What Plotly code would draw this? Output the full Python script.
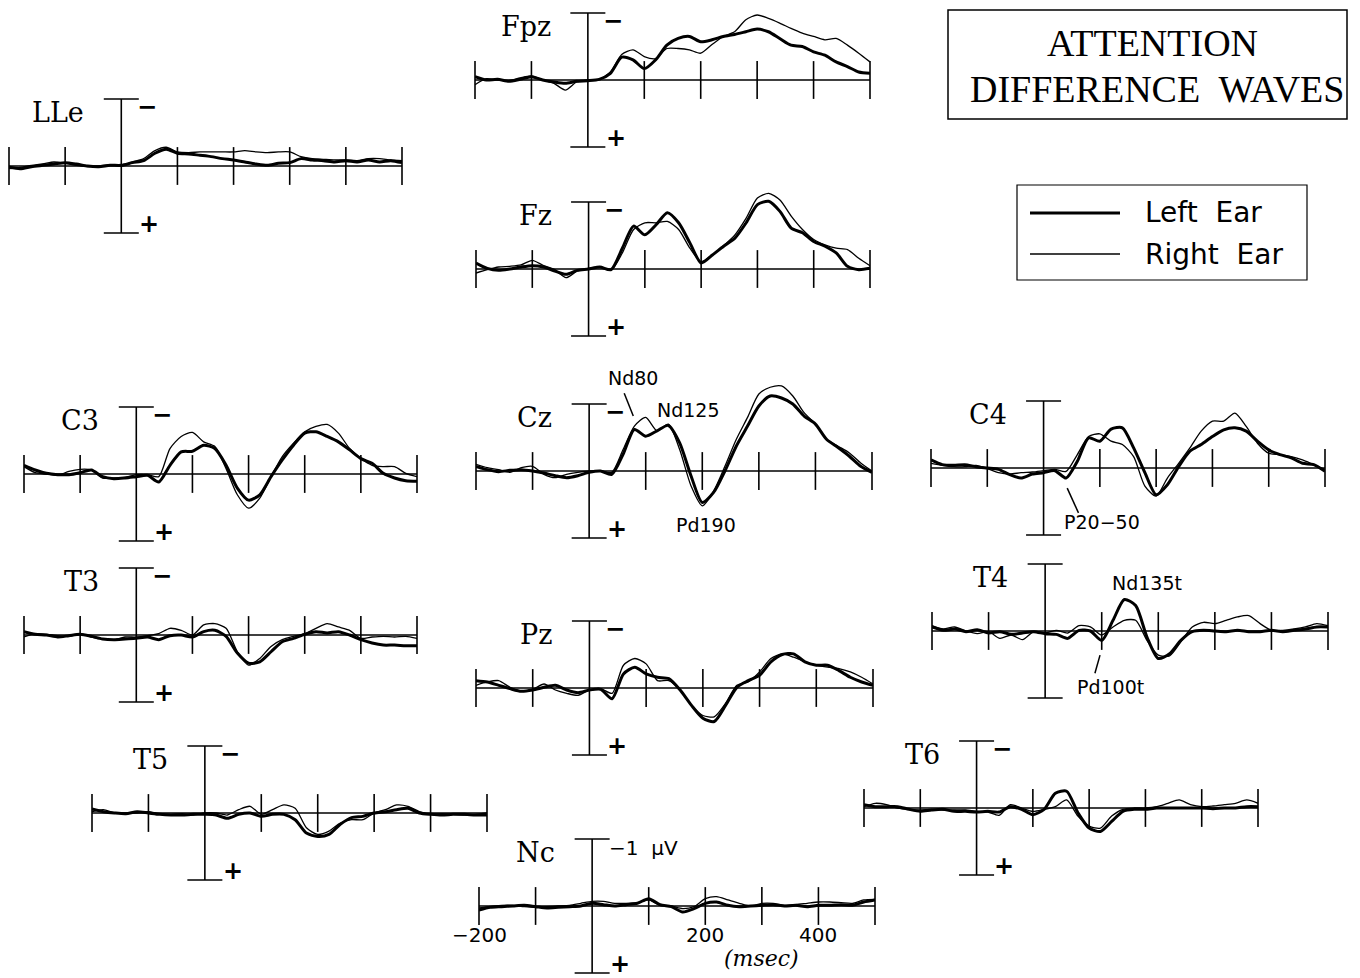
import plotly.graph_objects as go

# ---------------- data (microvolts, negative = up) ----------------
TIMES = list(range(-200, 501, 20))           # ms
TICKS = [-200, -100, 100, 200, 300, 400, 500]
NC_TICK_VALUES = [-200, 200, 400]
NC_TICK_TEXT = ["\u2212200", "200", "400"]

CHANNELS = ["LLe", "Fpz", "Fz", "C3", "Cz", "C4", "T3", "Pz", "T4", "T5", "T6", "Nc"]

LLE_LEFT = [0.02, 0.04, 0.01, -0.01, -0.03, -0.05, -0.03, 0.00, 0.01, -0.01, -0.01,
            -0.05, -0.08, -0.19, -0.25, -0.19, -0.18, -0.16, -0.14, -0.11, -0.09, -0.06, -0.03,
            -0.01, -0.04, -0.05, -0.11, -0.09, -0.08, -0.06, -0.08, -0.06, -0.09, -0.06, -0.08, -0.05]
LLE_RIGHT = [0.04, 0.02, -0.01, -0.03, -0.06, -0.04, -0.01, 0.01, 0.00, -0.02, 0.00,
             -0.06, -0.11, -0.23, -0.28, -0.21, -0.20, -0.21, -0.21, -0.21, -0.21, -0.23, -0.21,
             -0.20, -0.21, -0.21, -0.14, -0.11, -0.10, -0.09, -0.09, -0.08, -0.11, -0.11, -0.09, -0.08]

FPZ_LEFT = [-0.05, 0.00, -0.01, 0.02, -0.01, -0.05, 0.00, 0.03, 0.05, 0.02, 0.01,
            -0.01, -0.10, -0.34, -0.30, -0.17, -0.30, -0.52, -0.62, -0.65, -0.57, -0.60, -0.65,
            -0.68, -0.72, -0.76, -0.72, -0.62, -0.52, -0.50, -0.42, -0.37, -0.27, -0.20, -0.12, -0.10]
FPZ_RIGHT = [0.07, -0.02, 0.00, 0.01, -0.03, -0.06, 0.00, 0.05, 0.15, 0.03, 0.00,
             -0.01, -0.12, -0.38, -0.45, -0.35, -0.32, -0.47, -0.47, -0.45, -0.40, -0.53, -0.65,
             -0.72, -0.90, -0.97, -0.92, -0.85, -0.77, -0.70, -0.65, -0.60, -0.62, -0.52, -0.40, -0.27]

FZ_LEFT = [-0.09, -0.01, 0.02, 0.00, -0.03, -0.05, -0.03, 0.03, 0.08, 0.02, 0.00,
           -0.03, 0.01, -0.31, -0.64, -0.51, -0.66, -0.84, -0.69, -0.39, -0.09, -0.21, -0.34,
           -0.46, -0.69, -0.96, -1.01, -0.86, -0.61, -0.54, -0.41, -0.34, -0.24, -0.04, 0.01, -0.01]
FZ_RIGHT = [0.06, 0.01, -0.03, -0.04, -0.06, -0.13, -0.05, 0.01, 0.13, 0.03, -0.01,
            -0.03, 0.02, -0.24, -0.59, -0.69, -0.69, -0.71, -0.59, -0.31, -0.11, -0.21, -0.35,
            -0.51, -0.76, -1.06, -1.13, -1.03, -0.79, -0.59, -0.44, -0.36, -0.31, -0.29, -0.16, -0.05]

C3_LEFT = [-0.13, -0.06, -0.01, 0.01, 0.01, -0.02, -0.06, 0.04, 0.07, 0.06, 0.04,
           0.02, 0.12, -0.13, -0.33, -0.34, -0.43, -0.38, -0.13, 0.21, 0.39, 0.31, 0.04,
           -0.21, -0.43, -0.61, -0.63, -0.56, -0.48, -0.36, -0.23, -0.16, -0.01, 0.06, 0.10, 0.11]
C3_RIGHT = [-0.11, -0.02, 0.00, 0.02, -0.04, -0.07, -0.06, 0.06, 0.06, 0.05, 0.01,
            0.01, 0.04, -0.38, -0.56, -0.62, -0.48, -0.41, -0.08, 0.31, 0.51, 0.36, 0.04,
            -0.26, -0.46, -0.63, -0.71, -0.74, -0.61, -0.38, -0.23, -0.13, -0.11, -0.11, -0.01, 0.04]

CZ_LEFT = [-0.07, -0.02, 0.01, -0.01, -0.02, 0.00, 0.03, 0.07, 0.10, 0.07, 0.02,
           0.00, 0.05, -0.25, -0.62, -0.52, -0.60, -0.68, -0.42, 0.07, 0.47, 0.32, 0.00,
           -0.37, -0.67, -0.97, -1.12, -1.09, -1.00, -0.82, -0.70, -0.47, -0.35, -0.22, -0.07, 0.02]
CZ_RIGHT = [-0.10, -0.05, -0.02, 0.02, -0.05, -0.07, 0.05, 0.10, 0.05, 0.02, 0.00,
            0.00, 0.02, -0.32, -0.67, -0.80, -0.60, -0.70, -0.32, 0.22, 0.52, 0.30, -0.07,
            -0.47, -0.80, -1.15, -1.25, -1.27, -1.12, -0.87, -0.70, -0.47, -0.37, -0.27, -0.12, 0.00]

C4_LEFT = [-0.12, -0.05, -0.04, -0.05, -0.02, 0.00, 0.02, 0.10, 0.15, 0.09, 0.07,
           0.04, 0.15, -0.10, -0.45, -0.40, -0.58, -0.60, -0.30, 0.07, 0.40, 0.25, -0.02,
           -0.25, -0.35, -0.47, -0.57, -0.60, -0.55, -0.40, -0.27, -0.20, -0.15, -0.07, -0.05, 0.05]
C4_RIGHT = [-0.07, -0.04, -0.02, -0.02, -0.04, 0.01, 0.07, 0.09, 0.07, 0.06, 0.04,
            0.02, 0.05, -0.20, -0.47, -0.51, -0.40, -0.35, -0.17, 0.27, 0.42, 0.15, -0.07,
            -0.30, -0.55, -0.70, -0.70, -0.82, -0.62, -0.37, -0.22, -0.20, -0.17, -0.12, -0.05, 0.02]

T3_LEFT = [-0.05, -0.01, 0.00, 0.03, 0.01, -0.01, 0.02, 0.06, 0.07, 0.06, 0.05,
           0.03, 0.07, 0.01, 0.00, 0.03, -0.05, -0.07, 0.02, 0.27, 0.42, 0.40, 0.25,
           0.10, 0.05, -0.01, -0.05, -0.03, -0.05, 0.00, 0.07, 0.12, 0.15, 0.15, 0.16, 0.16]
T3_RIGHT = [0.03, -0.02, -0.01, 0.01, 0.02, -0.02, 0.03, 0.06, 0.07, 0.03, 0.03,
            0.01, -0.02, -0.10, -0.07, 0.00, -0.15, -0.17, -0.10, 0.25, 0.45, 0.35, 0.17,
            0.07, 0.02, -0.02, -0.10, -0.17, -0.12, -0.07, 0.05, 0.03, 0.02, 0.03, 0.02, 0.05]

PZ_LEFT = [-0.11, -0.09, -0.04, 0.01, 0.05, 0.03, -0.01, -0.04, 0.03, 0.07, 0.03,
           0.02, 0.16, -0.21, -0.31, -0.21, -0.16, -0.14, 0.03, 0.26, 0.45, 0.50, 0.26,
           -0.01, -0.11, -0.19, -0.39, -0.50, -0.51, -0.39, -0.34, -0.34, -0.26, -0.16, -0.09, -0.04]
PZ_RIGHT = [-0.04, -0.09, -0.11, -0.01, 0.05, 0.02, -0.06, 0.03, 0.08, 0.11, 0.03,
            0.01, 0.08, -0.34, -0.44, -0.36, -0.11, -0.11, 0.03, 0.26, 0.41, 0.43, 0.23,
            -0.04, -0.09, -0.24, -0.44, -0.51, -0.46, -0.39, -0.34, -0.31, -0.29, -0.24, -0.16, -0.06]

T4_LEFT = [-0.06, -0.01, -0.03, 0.01, -0.02, 0.03, 0.01, 0.05, 0.03, 0.01, 0.04,
           0.05, 0.11, -0.01, 0.00, 0.14, -0.16, -0.47, -0.38, 0.09, 0.41, 0.34, 0.14,
           0.01, -0.01, 0.00, 0.01, -0.01, 0.01, 0.01, -0.01, 0.01, -0.01, -0.03, -0.06, -0.06]
T4_RIGHT = [-0.08, -0.03, -0.06, 0.00, 0.04, 0.01, 0.11, 0.06, 0.13, 0.01, 0.03,
            -0.01, 0.03, -0.08, -0.06, 0.06, -0.06, -0.16, -0.16, 0.14, 0.36, 0.37, 0.16,
            -0.06, -0.13, -0.11, -0.16, -0.21, -0.23, -0.11, -0.01, -0.01, -0.03, -0.06, -0.11, -0.08]

T5_LEFT = [-0.06, -0.02, 0.00, 0.01, -0.02, 0.00, 0.02, 0.03, 0.03, 0.02, 0.02,
           0.03, 0.08, 0.02, 0.00, 0.05, 0.02, 0.02, 0.10, 0.30, 0.35, 0.32, 0.17,
           0.07, 0.05, 0.00, -0.02, -0.05, -0.07, 0.00, 0.02, 0.03, 0.02, 0.02, 0.03, 0.03]
T5_RIGHT = [-0.02, -0.05, 0.00, 0.00, 0.00, -0.02, 0.01, 0.02, 0.01, 0.03, 0.00,
            0.00, 0.03, -0.05, -0.10, 0.02, -0.05, -0.12, -0.07, 0.22, 0.32, 0.27, 0.15,
            0.10, 0.10, 0.00, -0.05, -0.12, -0.10, -0.02, 0.02, 0.01, 0.02, 0.03, 0.02, 0.00]

T6_LEFT = [-0.05, -0.02, -0.02, -0.02, 0.02, 0.05, 0.03, 0.02, 0.05, 0.05, 0.06,
           0.05, 0.06, -0.02, 0.02, 0.10, 0.02, -0.22, -0.25, 0.07, 0.30, 0.35, 0.20,
           0.05, 0.02, 0.02, 0.00, 0.00, 0.00, 0.00, 0.00, 0.01, 0.00, 0.00, -0.02, -0.02]
T6_RIGHT = [-0.02, -0.07, -0.05, 0.00, 0.02, 0.03, 0.02, 0.03, 0.03, 0.03, 0.05,
            0.06, 0.11, -0.05, 0.00, 0.05, 0.02, -0.02, -0.12, 0.12, 0.27, 0.30, 0.12,
            0.02, 0.00, 0.00, -0.02, -0.07, -0.12, -0.05, -0.02, -0.03, -0.05, -0.07, -0.12, -0.07]

NC_LEFT = [0.06, 0.02, 0.01, 0.00, -0.01, 0.01, 0.03, 0.02, 0.01, 0.00, -0.04,
           -0.02, 0.00, -0.02, -0.04, -0.11, -0.02, 0.01, 0.09, 0.04, -0.04, -0.06, -0.01,
           0.01, 0.00, -0.01, -0.02, 0.00, -0.01, 0.01, -0.01, -0.01, -0.02, -0.01, -0.06, -0.09]
NC_RIGHT = [0.03, 0.01, -0.01, -0.01, 0.01, 0.02, 0.01, 0.00, -0.01, -0.04, -0.07,
            -0.07, -0.04, -0.04, -0.05, -0.09, -0.01, 0.00, 0.04, 0.01, -0.11, -0.14, -0.09,
            -0.04, 0.00, -0.04, -0.04, -0.01, -0.02, -0.04, -0.06, -0.06, -0.05, -0.04, -0.09, -0.10]

LEFT_EAR = {"LLe": LLE_LEFT, "Fpz": FPZ_LEFT, "Fz": FZ_LEFT, "C3": C3_LEFT, "Cz": CZ_LEFT,
            "C4": C4_LEFT, "T3": T3_LEFT, "Pz": PZ_LEFT, "T4": T4_LEFT, "T5": T5_LEFT,
            "T6": T6_LEFT, "Nc": NC_LEFT}
RIGHT_EAR = {"LLe": LLE_RIGHT, "Fpz": FPZ_RIGHT, "Fz": FZ_RIGHT, "C3": C3_RIGHT, "Cz": CZ_RIGHT,
             "C4": C4_RIGHT, "T3": T3_RIGHT, "Pz": PZ_RIGHT, "T4": T4_RIGHT, "T5": T5_RIGHT,
             "T6": T6_RIGHT, "Nc": NC_RIGHT}

# peak labels: (channel, text, time ms, value uV)
PEAK_LABELS = [("Cz", "Nd80", 78, -1.39), ("Cz", "Nd125", 175, -0.91), ("Cz", "Nd290", 335, -1.51),
               ("Cz", "Pd190", 207, 0.81), ("C4", "P20\u221250", 104, 0.81),
               ("T4", "Nd135t", 180, -0.72), ("T4", "Pd100t", 115, 0.84)]
# pointer lines: (channel, t0, v0, t1, v1)
POINTERS = [("Cz", 62, -1.16, 78, -0.82), ("C4", 42, 0.30, 62, 0.67), ("T4", 97, 0.36, 88, 0.63)]

# ---------------- layout / geometry (pixels) ----------------
W, H = 1360, 978
UV_PX = 67
GEOM = {  # x of -200 ms, x of 500 ms, y of baseline
    "LLe": (9, 402, 166), "Fpz": (475, 870, 80), "Fz": (476, 870, 269),
    "C3": (24, 417, 474), "Cz": (476, 872, 471), "C4": (931, 1325, 468),
    "T3": (24, 417, 635), "Pz": (476, 873, 688), "T4": (932, 1328, 631),
    "T5": (92, 487, 813), "T6": (864, 1258, 808), "Nc": (479, 875, 906),
}
NO_SIGNS = {"C4", "T4"}

BLACK = "black"
SERIF = "DejaVu Serif"
SANS = "DejaVu Sans"
THICK = 3.0
THIN = 1.3

fig = go.Figure()
axes = {}
annotations = []
shapes = []

for i, ch in enumerate(CHANNELS, start=1):
    assert len(LEFT_EAR[ch]) == len(TIMES) and len(RIGHT_EAR[ch]) == len(TIMES), ch
    left, right, base = GEOM[ch]
    top = max(0, base - 100)
    bot = min(H, base + 100)
    sx = "" if i == 1 else str(i)
    xref, yref = "x" + sx, "y" + sx
    axes["xaxis" + sx] = dict(domain=[left / W, right / W], range=[-200, 500],
                              visible=False, anchor=yref, fixedrange=True)
    axes["yaxis" + sx] = dict(domain=[1 - bot / H, 1 - top / H],
                              range=[(bot - base) / UV_PX, (top - base) / UV_PX],
                              visible=False, anchor=xref, fixedrange=True)

    # axes drawn as in the original figure
    fig.add_trace(go.Scatter(x=[TIMES[0], TIMES[-1]], y=[0, 0], mode="lines",
                             line=dict(color=BLACK, width=1.5), xaxis=xref, yaxis=yref,
                             showlegend=False, hoverinfo="skip"))
    fig.add_trace(go.Scatter(x=TICKS, y=[0] * len(TICKS), mode="markers", cliponaxis=False,
                             marker=dict(symbol="line-ns", size=27, color=BLACK,
                                         line=dict(color=BLACK, width=1.6)),
                             xaxis=xref, yaxis=yref, showlegend=False, hoverinfo="skip"))
    fig.add_trace(go.Scatter(x=[0, 0], y=[-1, 1], mode="lines+markers", cliponaxis=False,
                             line=dict(color=BLACK, width=1.6),
                             marker=dict(symbol="line-ew", size=25, color=BLACK,
                                         line=dict(color=BLACK, width=1.6)),
                             xaxis=xref, yaxis=yref, showlegend=False, hoverinfo="skip"))

    # waves
    fig.add_trace(go.Scatter(x=TIMES, y=RIGHT_EAR[ch], mode="lines", name="Right Ear",
                             line=dict(color=BLACK, width=THIN, shape="spline", smoothing=0.7),
                             xaxis=xref, yaxis=yref, showlegend=False))
    fig.add_trace(go.Scatter(x=TIMES, y=LEFT_EAR[ch], mode="lines", name="Left Ear",
                             line=dict(color=BLACK, width=THICK, shape="spline", smoothing=0.7),
                             xaxis=xref, yaxis=yref, showlegend=False))

    # channel name
    annotations.append(dict(text=ch, x=-62, y=-0.80, xref=xref, yref=yref, showarrow=False,
                            xanchor="right", yanchor="middle",
                            font=dict(family=SERIF, size=27, color=BLACK)))
    if ch == "Nc":
        annotations.append(dict(text="\u22121  \u03bcV", x=26, y=-0.86, xref=xref, yref=yref,
                                showarrow=False, xanchor="left", yanchor="middle",
                                font=dict(family=SANS, size=20, color=BLACK)))
        for tv, tt in zip(NC_TICK_VALUES, NC_TICK_TEXT):
            annotations.append(dict(text=tt, x=tv, y=0.44, xref=xref, yref=yref, showarrow=False,
                                    xanchor="center", yanchor="middle",
                                    font=dict(family=SANS, size=20, color=BLACK)))
        annotations.append(dict(text="<i>(msec)</i>", x=299, y=0.78, xref=xref, yref=yref,
                                showarrow=False, xanchor="center", yanchor="middle",
                                font=dict(family=SERIF, size=22, color=BLACK)))
    elif ch not in NO_SIGNS:
        annotations.append(dict(text="<b>\u2212</b>", x=24, y=-0.88, xref=xref, yref=yref,
                                showarrow=False, xanchor="left", yanchor="middle",
                                font=dict(family=SANS, size=24, color=BLACK)))
    if ch not in NO_SIGNS:
        annotations.append(dict(text="<b>+</b>", x=28, y=0.87, xref=xref, yref=yref,
                                showarrow=False, xanchor="left", yanchor="middle",
                                font=dict(family=SANS, size=24, color=BLACK)))

AX = {ch: ("" if i == 1 else str(i)) for i, ch in enumerate(CHANNELS, start=1)}
for ch, txt, t, v in PEAK_LABELS:
    annotations.append(dict(text=txt, x=t, y=v, xref="x" + AX[ch], yref="y" + AX[ch],
                            showarrow=False, xanchor="center", yanchor="middle",
                            font=dict(family=SANS, size=19, color=BLACK)))
for ch, t0, v0, t1, v1 in POINTERS:
    shapes.append(dict(type="line", x0=t0, y0=v0, x1=t1, y1=v1,
                       xref="x" + AX[ch], yref="y" + AX[ch], line=dict(color=BLACK, width=1.5)))

# title box
def px(x):
    return x / W

def py(y):
    return 1 - y / H

shapes.append(dict(type="rect", xref="paper", yref="paper", x0=px(948), x1=px(1347),
                   y0=py(119), y1=py(10), line=dict(color=BLACK, width=1.5)))
annotations.append(dict(text="ATTENTION", x=px(1152), y=py(43), xref="paper", yref="paper",
                        showarrow=False, xanchor="center", yanchor="middle",
                        font=dict(family="Liberation Serif", size=38, color=BLACK)))
annotations.append(dict(text="DIFFERENCE  WAVES", x=px(1157), y=py(89), xref="paper", yref="paper",
                        showarrow=False, xanchor="center", yanchor="middle",
                        font=dict(family="Liberation Serif", size=38, color=BLACK)))

# legend box
shapes.append(dict(type="rect", xref="paper", yref="paper", x0=px(1017), x1=px(1307),
                   y0=py(280), y1=py(185), line=dict(color=BLACK, width=1.2)))
shapes.append(dict(type="line", xref="paper", yref="paper", x0=px(1030), x1=px(1120),
                   y0=py(213), y1=py(213), line=dict(color=BLACK, width=THICK)))
shapes.append(dict(type="line", xref="paper", yref="paper", x0=px(1030), x1=px(1120),
                   y0=py(254), y1=py(254), line=dict(color=BLACK, width=THIN)))
annotations.append(dict(text="Left  Ear", x=px(1143), y=py(213), xref="paper", yref="paper",
                        showarrow=False, xanchor="left", yanchor="middle",
                        font=dict(family=SANS, size=28, color=BLACK)))
annotations.append(dict(text="Right  Ear", x=px(1143), y=py(254), xref="paper", yref="paper",
                        showarrow=False, xanchor="left", yanchor="middle",
                        font=dict(family=SANS, size=28, color=BLACK)))

fig.update_layout(width=W, height=H, margin=dict(l=0, r=0, t=0, b=0),
                  paper_bgcolor="white", plot_bgcolor="rgba(0,0,0,0)",
                  showlegend=False, annotations=annotations, shapes=shapes, **axes)

fig.write_html("out.html", config={"displayModeBar": False},
               post_script="document.body.style.margin='0';document.body.style.overflow='hidden';")
